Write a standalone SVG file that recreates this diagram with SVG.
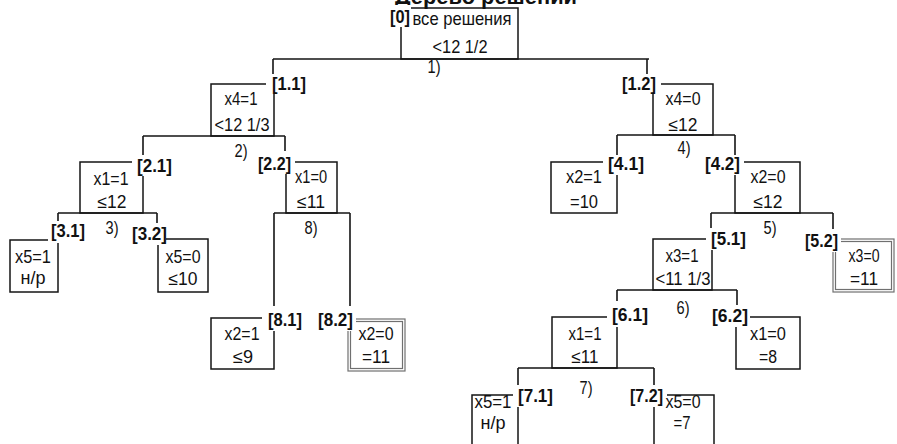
<svg xmlns="http://www.w3.org/2000/svg" width="897" height="444" viewBox="0 0 897 444">
<style>
.ln{stroke:#151515;stroke-width:1.6;fill:none}
.box{stroke:#151515;stroke-width:1.5;fill:none}
.dbl{stroke:#707070;stroke-width:1.2;fill:none}
.mk{fill:#fff}
.t{font-family:"Liberation Sans Narrow","Liberation Sans",Arial,sans-serif;font-size:18px;fill:#111;text-anchor:middle}
.lb{font-family:"Liberation Sans Narrow","Liberation Sans",Arial,sans-serif;font-size:19px;font-weight:bold;fill:#111}
.st{font-family:"Liberation Sans Narrow","Liberation Sans",Arial,sans-serif;font-size:18px;fill:#111;text-anchor:middle}
.ttl{font-family:"Liberation Sans",Arial,sans-serif;font-size:22px;font-weight:bold;fill:#111;text-anchor:middle}
</style>
<text class="ttl" x="486" y="3.5" textLength="182" lengthAdjust="spacingAndGlyphs">Дерево решений</text>
<g id="connectors">
<path class="ln" d="M273 59H649M273 59V84M647 59V84"/>
<path class="ln" d="M143 136H285M143 136V162M285 136V162"/>
<path class="ln" d="M58 213H157M58 213V240M157 213V240"/>
<path class="ln" d="M274 213H350M274 213V318M350 213V319"/>
<path class="ln" d="M617 135H735M617 135V162M735 135V162"/>
<path class="ln" d="M711 213H833M711 213V239M833 213V239"/>
<path class="ln" d="M617 290H737M617 290V317M737 290V317"/>
<path class="ln" d="M518 368H654M518 368V395M654 368V395"/>
<text class="st" x="434" y="73" textLength="13" lengthAdjust="spacingAndGlyphs">1)</text>
<text class="st" x="241" y="157" textLength="13" lengthAdjust="spacingAndGlyphs">2)</text>
<text class="st" x="112" y="234" textLength="13" lengthAdjust="spacingAndGlyphs">3)</text>
<text class="st" x="684" y="154" textLength="13" lengthAdjust="spacingAndGlyphs">4)</text>
<text class="st" x="770" y="234" textLength="13" lengthAdjust="spacingAndGlyphs">5)</text>
<text class="st" x="683" y="314" textLength="13" lengthAdjust="spacingAndGlyphs">6)</text>
<text class="st" x="586" y="394" textLength="13" lengthAdjust="spacingAndGlyphs">7)</text>
<text class="st" x="311" y="234" textLength="13" lengthAdjust="spacingAndGlyphs">8)</text>
</g>
<g id="n0">
<rect class="box" x="401" y="8" width="117" height="51"/>
<rect class="mk" x="387" y="5" width="24" height="22"/>
<text class="lb" x="390" y="23" textLength="20" lengthAdjust="spacingAndGlyphs">[0]</text>
<text class="t" x="462" y="25" style="font-size:19px" textLength="99" lengthAdjust="spacingAndGlyphs">все решения</text>
<text class="t" x="460" y="53" style="font-size:19px" textLength="55" lengthAdjust="spacingAndGlyphs">&lt;12 1/2</text>
</g>
<g id="n1_1">
<rect class="box" x="211" y="84" width="63" height="52"/>
<rect class="mk" x="266" y="74" width="42" height="20"/>
<text class="lb" x="272" y="90" textLength="34" lengthAdjust="spacingAndGlyphs">[1.1]</text>
<text class="t" x="241" y="105" textLength="33" lengthAdjust="spacingAndGlyphs">x4=1</text>
<text class="t" x="242" y="131" textLength="55" lengthAdjust="spacingAndGlyphs">&lt;12 1/3</text>
</g>
<g id="n1_2">
<rect class="box" x="653" y="84" width="60" height="51"/>
<rect class="mk" x="619" y="74" width="42" height="20"/>
<text class="lb" x="622" y="90" textLength="34" lengthAdjust="spacingAndGlyphs">[1.2]</text>
<text class="t" x="683" y="105" textLength="35" lengthAdjust="spacingAndGlyphs">x4=0</text>
<text class="t" x="683" y="131" textLength="29" lengthAdjust="spacingAndGlyphs">≤12</text>
</g>
<g id="n2_1">
<rect class="box" x="80" y="162" width="63" height="51"/>
<rect class="mk" x="132" y="155" width="44" height="21"/>
<text class="lb" x="137" y="172" textLength="35" lengthAdjust="spacingAndGlyphs">[2.1]</text>
<text class="t" x="111" y="185" textLength="35" lengthAdjust="spacingAndGlyphs">x1=1</text>
<text class="t" x="112" y="208" textLength="29" lengthAdjust="spacingAndGlyphs">≤12</text>
</g>
<g id="n2_2">
<rect class="box" x="286" y="162" width="51" height="51"/>
<rect class="mk" x="255" y="151" width="40" height="23"/>
<text class="lb" x="258" y="170" textLength="33" lengthAdjust="spacingAndGlyphs">[2.2]</text>
<text class="t" x="311" y="183" textLength="32" lengthAdjust="spacingAndGlyphs">x1=0</text>
<text class="t" x="311" y="208" textLength="28" lengthAdjust="spacingAndGlyphs">≤11</text>
</g>
<g id="n3_1">
<rect class="box" x="10" y="240" width="48" height="52"/>
<rect class="mk" x="48" y="221" width="40" height="22"/>
<text class="lb" x="51" y="237" textLength="34" lengthAdjust="spacingAndGlyphs">[3.1]</text>
<text class="t" x="33" y="263" textLength="36" lengthAdjust="spacingAndGlyphs">x5=1</text>
<text class="t" x="33" y="284" textLength="25" lengthAdjust="spacingAndGlyphs">н/р</text>
</g>
<g id="n3_2">
<rect class="box" x="158" y="239" width="50" height="53"/>
<rect class="mk" x="129" y="223" width="37" height="22"/>
<text class="lb" x="132" y="240" textLength="35" lengthAdjust="spacingAndGlyphs">[3.2]</text>
<text class="t" x="183" y="263" textLength="35" lengthAdjust="spacingAndGlyphs">x5=0</text>
<text class="t" x="183" y="285" textLength="29" lengthAdjust="spacingAndGlyphs">≤10</text>
</g>
<g id="n4_1">
<rect class="box" x="551" y="162" width="66" height="51"/>
<rect class="mk" x="603" y="155" width="45" height="20"/>
<text class="lb" x="608" y="170" textLength="36" lengthAdjust="spacingAndGlyphs">[4.1]</text>
<text class="t" x="584" y="183" textLength="36" lengthAdjust="spacingAndGlyphs">x2=1</text>
<text class="t" x="584" y="208" textLength="28" lengthAdjust="spacingAndGlyphs">=10</text>
</g>
<g id="n4_2">
<rect class="box" x="735" y="162" width="65" height="51"/>
<rect class="mk" x="702" y="155" width="42" height="20"/>
<text class="lb" x="705" y="170" textLength="35" lengthAdjust="spacingAndGlyphs">[4.2]</text>
<text class="t" x="768" y="183" textLength="35" lengthAdjust="spacingAndGlyphs">x2=0</text>
<text class="t" x="768" y="208" textLength="29" lengthAdjust="spacingAndGlyphs">≤12</text>
</g>
<g id="n5_1">
<rect class="box" x="653" y="239" width="59" height="51"/>
<rect class="mk" x="706" y="228" width="43" height="22"/>
<text class="lb" x="711" y="245" textLength="35" lengthAdjust="spacingAndGlyphs">[5.1]</text>
<text class="t" x="682" y="262" textLength="33" lengthAdjust="spacingAndGlyphs">x3=1</text>
<text class="t" x="683" y="285" textLength="55" lengthAdjust="spacingAndGlyphs">&lt;11 1/3</text>
</g>
<g id="n5_2">
<rect class="dbl" x="833" y="239" width="61" height="53"/>
<rect class="dbl" x="835.5" y="241.5" width="56" height="48"/>
<rect class="mk" x="802" y="229" width="39" height="23"/>
<text class="lb" x="805" y="247" textLength="33" lengthAdjust="spacingAndGlyphs">[5.2]</text>
<text class="t" x="864" y="262" textLength="31" lengthAdjust="spacingAndGlyphs">x3=0</text>
<text class="t" x="864" y="285" textLength="28" lengthAdjust="spacingAndGlyphs">=11</text>
</g>
<g id="n6_1">
<rect class="box" x="552" y="317" width="65" height="51"/>
<rect class="mk" x="607" y="301" width="44" height="26"/>
<text class="lb" x="612" y="321" textLength="36" lengthAdjust="spacingAndGlyphs">[6.1]</text>
<text class="t" x="585" y="340" textLength="33" lengthAdjust="spacingAndGlyphs">x1=1</text>
<text class="t" x="585" y="363" textLength="27" lengthAdjust="spacingAndGlyphs">≤11</text>
</g>
<g id="n6_2">
<rect class="box" x="736" y="317" width="64" height="52"/>
<rect class="mk" x="709" y="305" width="41" height="22"/>
<text class="lb" x="712" y="322" textLength="36" lengthAdjust="spacingAndGlyphs">[6.2]</text>
<text class="t" x="768" y="340" textLength="36" lengthAdjust="spacingAndGlyphs">x1=0</text>
<text class="t" x="768" y="363" textLength="18" lengthAdjust="spacingAndGlyphs">=8</text>
</g>
<g id="n7_1">
<rect class="box" x="472" y="395" width="46" height="60"/>
<rect class="mk" x="513" y="385" width="43" height="22"/>
<text class="lb" x="518" y="402" textLength="35" lengthAdjust="spacingAndGlyphs">[7.1]</text>
<text class="t" x="493" y="408" textLength="37" lengthAdjust="spacingAndGlyphs">x5=1</text>
<text class="t" x="493" y="429" textLength="25" lengthAdjust="spacingAndGlyphs">н/р</text>
</g>
<g id="n7_2">
<rect class="box" x="654" y="395" width="60" height="60"/>
<rect class="mk" x="627" y="385" width="40" height="22"/>
<text class="lb" x="630" y="402" textLength="33" lengthAdjust="spacingAndGlyphs">[7.2]</text>
<text class="t" x="683" y="408" textLength="35" lengthAdjust="spacingAndGlyphs">x5=0</text>
<text class="t" x="682" y="429" textLength="17" lengthAdjust="spacingAndGlyphs">=7</text>
</g>
<g id="n8_1">
<rect class="box" x="211" y="318" width="63" height="51"/>
<rect class="mk" x="262" y="306" width="43" height="25"/>
<text class="lb" x="268" y="326" textLength="34" lengthAdjust="spacingAndGlyphs">[8.1]</text>
<text class="t" x="242" y="340" textLength="35" lengthAdjust="spacingAndGlyphs">x2=1</text>
<text class="t" x="243" y="363" textLength="20" lengthAdjust="spacingAndGlyphs">≤9</text>
</g>
<g id="n8_2">
<rect class="dbl" x="348" y="319" width="57" height="52"/>
<rect class="dbl" x="350.5" y="321.5" width="52" height="47"/>
<rect class="mk" x="315" y="306" width="41" height="25"/>
<text class="lb" x="318" y="326" textLength="35" lengthAdjust="spacingAndGlyphs">[8.2]</text>
<text class="t" x="376" y="340" textLength="35" lengthAdjust="spacingAndGlyphs">x2=0</text>
<text class="t" x="376" y="363" textLength="28" lengthAdjust="spacingAndGlyphs">=11</text>
</g>
</svg>
